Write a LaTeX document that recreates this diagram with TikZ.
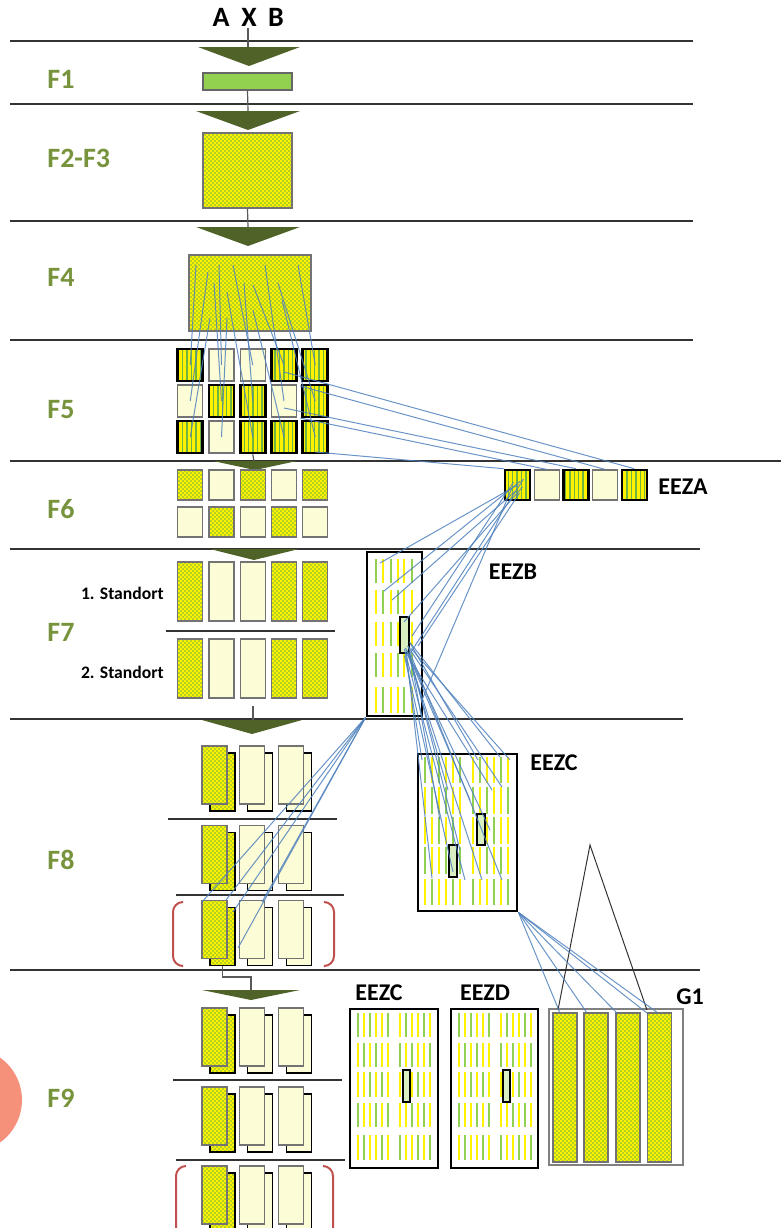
\documentclass[tikz,border=0pt]{standalone}
\usepackage{fontspec}
\setmainfont{Carlito}
\usetikzlibrary{patterns,calc}

\definecolor{fgreen}{HTML}{77933C}
\definecolor{tridark}{HTML}{4F6228}
\definecolor{lgreen}{HTML}{92D050}
\definecolor{dotgreen}{HTML}{6FB43F}
\definecolor{lite}{HTML}{FCFCD6}
\definecolor{flowblue}{HTML}{4F81BD}
\definecolor{brkred}{HTML}{C0504D}
\definecolor{blob}{HTML}{F5907A}

% fill patterns (yellow ground is laid under them)
\pgfdeclarepatternformonly{fdots}{\pgfqpoint{-0.5pt}{-0.5pt}}{\pgfqpoint{2.5pt}{2.5pt}}{\pgfqpoint{2pt}{2pt}}{%
  \pgfpathcircle{\pgfqpoint{0.5pt}{0.5pt}}{0.42pt}%
  \pgfpathcircle{\pgfqpoint{1.5pt}{1.5pt}}{0.42pt}%
  \pgfusepath{fill}}
\pgfdeclarepatternformonly{vstripes}{\pgfqpoint{0pt}{-0.5pt}}{\pgfqpoint{2.2pt}{2.5pt}}{\pgfqpoint{2.2pt}{2pt}}{%
  \pgfsetlinewidth{0.7pt}%
  \pgfpathmoveto{\pgfqpoint{1.1pt}{-0.5pt}}\pgfpathlineto{\pgfqpoint{1.1pt}{2.5pt}}%
  \pgfusepath{stroke}}

\tikzset{
  sepline/.style={draw=black!80, line width=0.55pt},
  tri/.style={fill=tridark},
  stem/.style={draw=black!65, line width=0.6pt},
  flab/.style={anchor=west, inner sep=0, text=fgreen, font=\fontsize{14}{16}\selectfont\bfseries},
  crosslab/.style={font=\fontsize{14}{16}\selectfont\bfseries},
  eezlab/.style={font=\fontsize{12}{14}\selectfont\bfseries},
  ortlab/.style={anchor=east, inner sep=0, font=\fontsize{8.8}{10}\selectfont\bfseries},
  dcell/.style={draw=black!55, line width=0.6pt, preaction={fill=yellow}, pattern=fdots, pattern color=dotgreen},
  lcell/.style={draw=black!55, line width=0.6pt, fill=lite},
  scell/.style={draw=black, line width=1.3pt, preaction={fill=yellow}, pattern=vstripes, pattern color=dotgreen},
  c5/.style={inner sep=0, minimum width=12.5pt, minimum height=16pt},
  c6/.style={inner sep=0, minimum width=12.5pt, minimum height=15pt},
  c7/.style={inner sep=0, minimum width=12.5pt, minimum height=29.5pt},
  pcell/.style={inner sep=0, minimum width=12.5pt, minimum height=29pt},
  eez/.style={draw=black, line width=1.4pt, fill=white, inner sep=0},
  eezsmall/.style={draw=black, line width=0.9pt, fill=lgreen!35, inner sep=0, minimum width=4pt, minimum height=16pt},
  ticky/.style={draw=yellow, line width=1pt},
  tickg/.style={draw=lgreen, line width=1pt},
  flow/.style={draw=flowblue, line width=0.5pt, opacity=0.85},
  gline/.style={draw=black!80, line width=0.5pt},
  brk/.style={draw=brkred, line width=1pt, rounded corners=5pt},
}

% short dashes inside an EEZ block
\newcommand\eezticks[2]{%
  \foreach \ya/\yb [count=\ti] in {#2}{%
    \foreach \xx [count=\tj] in {#1}{%
      \pgfmathtruncatemacro\isg{mod(3*\tj+2*\ti,5)<2}%
      \ifnum\isg=1 \draw[tickg] (\xx,\ya) -- (\xx,\yb);\else \draw[ticky] (\xx,\ya) -- (\xx,\yb);\fi
    }%
  }%
}
% front sheet with a second sheet behind it
\newcommand\pairbox[4]{%
  \node[pcell, #4cell, draw=black] (#1-back) at (#2+8,#3+7) {};
  \node[pcell, #4cell] (#1) at (#2,#3) {};
}

\begin{document}
\begin{tikzpicture}[x=0.5pt, y=-0.5pt]
  \useasboundingbox (0,0) rectangle (781,1228);
  \fill[blob] (-30,1100) circle (52);

  % section rules and labels
  \foreach \yy/\xe in {41/693,104/693,221/693,340/693,461/781,549/700,719/683,970/700}
    \draw[sepline] (10,\yy) -- (\xe,\yy);
  \foreach \nm/\txt/\yy in {f1/F1/79, f23/F2-F3/158, f4/F4/277, f5/F5/410, f6/F6/509, f7/F7/632, f8/F8/860, f9/F9/1098}
    \node[flab] (lab-\nm) at (47,\yy) {\txt};

  % top: crossing A x B
  \node[crosslab] (pa) at (221,17) {A};
  \node[crosslab] (px) at (249,17) {X};
  \node[crosslab] (pb) at (276,17) {B};
  \coordinate (t1) at (248,47);
  \draw[stem] (248,28) -- (t1);
  \fill[tri] (198,47) -- (300,47) -- (249,66) -- cycle;
  \node[draw=black!60, line width=0.6pt, fill=lgreen, inner sep=0, minimum width=44.5pt, minimum height=8.5pt] (f1) at (247.5,81.5) {};

  % F2-F3 and F4
  \coordinate (t2) at (248,111);
  \draw[stem] (f1.south) -- (t2);
  \fill[tri] (196,111) -- (300,111) -- (248,130) -- cycle;
  \node[dcell, inner sep=0, minimum width=44.5pt, minimum height=37.5pt] (f23) at (247.5,170.5) {};
  \coordinate (t3) at (248,227);
  \draw[stem] (f23.south) -- (t3);
  \fill[tri] (196,227) -- (300,227) -- (248,246) -- cycle;
  \node[dcell, inner sep=0, minimum width=61pt, minimum height=38pt] (f4) at (250,293) {};

  % F5 grid
  \foreach \ri/\yy/\kinds in {1/365/{s,l,l,s,s}, 2/401/{l,s,s,l,s}, 3/437/{s,l,s,s,s}}
    \foreach \kk [count=\ci] in \kinds
      \node[c5, \kk cell] (f5-\ri-\ci) at ({159+31.25*\ci},\yy) {};
  \coordinate (t4) at (254,461);
  \draw[stem] (f5-3-3.south) -- (t4);
  \fill[tri] (213,461) -- (297,461) -- (255,470) -- cycle;

  % F6 grid and EEZA
  \foreach \ri/\yy/\kinds in {1/485/{d,l,d,l,d}, 2/522/{l,d,l,d,l}}
    \foreach \kk [count=\ci] in \kinds
      \node[c6, \kk cell] (f6-\ri-\ci) at ({159+31.25*\ci},\yy) {};
  \foreach \kk [count=\ci] in {s,l,s,l,s}
    \node[c6, \kk cell] (eeza-\ci) at ({488.3+29.2*\ci},485) {};
  \node[eezlab] (lab-eeza) at (683,487) {EEZA};
  \fill[tri] (210,549) -- (299,549) -- (254,560) -- cycle;

  % F7: two sites
  \foreach \ri/\yy in {1/591.5, 2/668.5}
    \foreach \kk [count=\ci] in {d,l,l,d,d}
      \node[c7, \kk cell] (f7-\ri-\ci) at ({159+31.25*\ci},\yy) {};
  \node[ortlab] (ort1) at (164,593) {1. Standort};
  \node[ortlab] (ort2) at (164,672) {2. Standort};
  \draw[sepline] (166,631) -- (335,631);
  \coordinate (t6) at (253,720);
  \draw[stem] (253,706) -- (t6);
  \fill[tri] (202,720) -- (302,720) -- (252,734) -- cycle;

  % EEZB
  \node[eez, minimum width=27.5pt, minimum height=82pt] (eezb) at (394.5,634) {};
  \eezticks{376,383,391,398,404,412}{559/583,590/614,622/646,653/677,687/713}
  \node[eezsmall, minimum width=4.5pt, minimum height=18pt] (eezb-s) at (404.5,635) {};
  \node[eezlab] (lab-eezb) at (513,572) {EEZB};

  % F8 sheets
  \foreach \ri/\yy in {1/775, 2/854.5, 3/929.5}
    \foreach \xx/\kk [count=\ci] in {214.5/d, 252/l, 291/l}
      \pairbox{f8-\ri-\ci}{\xx}{\yy}{\kk}
  \draw[sepline] (168,819) -- (337,819);
  \draw[sepline] (176,895) -- (344,895);
  \draw[brk] (182,902) -- (173,902) -- (173,966) -- (182,966);
  \draw[brk] (325,902) -- (334,902) -- (334,966) -- (325,966);
  \coordinate (t7) at (251,990);
  \draw[stem] (f8-3-1-back.south) |- (251,977) -- (t7);
  \fill[tri] (202,990) -- (300,990) -- (251,1000) -- cycle;

  % EEZC (F8)
  \node[eez, minimum width=49.5pt, minimum height=78.5pt] (eezc8) at (467.5,832.5) {};
  \eezticks{425,432,439,446,453,460,473,480,487,494,501,508}{757/783,787/814,817/844,847/874,879/905}
  \node[eezsmall] (eezc8-s1) at (453,861) {};
  \node[eezsmall, minimum height=15.5pt] (eezc8-s2) at (481,829.5) {};
  \node[eezlab] (lab-eezc8) at (554,763) {EEZC};

  % F9 sheets
  \foreach \ri/\yy in {1/1037, 2/1116, 3/1195}
    \foreach \xx/\kk [count=\ci] in {214.5/d, 252/l, 291/l}
      \pairbox{f9-\ri-\ci}{\xx}{\yy}{\kk}
  \draw[sepline] (173,1080) -- (342,1080);
  \draw[sepline] (176,1160) -- (345,1160);
  \draw[brk] (186,1166) -- (176,1166) -- (176,1245);
  \draw[brk] (323,1166) -- (333,1166) -- (333,1245);

  % EEZC and EEZD (F9)
  \node[eez, minimum width=44pt, minimum height=79.5pt] (eezc9) at (394,1088.5) {};
  \eezticks{358,364,370,376,382,388,400,406,412,418,424,430}{1013/1037,1043/1067,1072/1097,1103/1127,1135/1160}
  \node[eezsmall, minimum width=3.5pt] (eezc9-s) at (406.5,1086) {};
  \node[eezlab] (lab-eezc9) at (379,993) {EEZC};
  \node[eez, minimum width=43.5pt, minimum height=79.5pt] (eezd) at (494.5,1088.5) {};
  \eezticks{459,465,471,477,483,489,501,507,513,519,525,531}{1013/1037,1043/1067,1072/1097,1103/1127,1135/1160}
  \node[eezsmall, minimum width=3.5pt] (eezd-s) at (506.5,1086) {};
  \node[eezlab] (lab-eezd) at (485,993) {EEZD};

  % G1
  \node[draw=black!50, line width=0.6pt, fill=white, inner sep=0, minimum width=67pt, minimum height=78pt] (g1) at (616,1087) {};
  \foreach \xx [count=\ci] in {565,596,628,659.5}
    \node[dcell, inner sep=0, minimum width=12pt, minimum height=74.5pt] (g1-\ci) at (\xx,1087.5) {};
  \node[eezlab] (lab-g1) at (690,997) {G1};
  \coordinate (g1top) at (590,845);
  \coordinate (g1left) at (558,1010);
  \coordinate (g1right) at (647,1010);
  \draw[gline] (g1left) -- (g1top) -- (g1right);

  % selection lines
  \foreach \ri/\ci/\sx/\sy in {1/1/196/265, 1/2/219/265, 1/3/233/265, 1/4/253/285, 1/5/298/265,
      2/1/208/272, 2/2/214/283, 2/3/244/283, 2/4/265/265, 2/5/278/283,
      3/1/210/318, 3/2/227/318, 3/3/227/292, 3/4/253/310, 3/5/282/300}{
    \coordinate (s-\ri-\ci) at (\sx,\sy);
    \draw[flow] (s-\ri-\ci) -- (f5-\ri-\ci.center);
  }
  \draw[flow] ($(f5-1-4.center)+(0,7)$) -- (eeza-5.north);
  \draw[flow] ($(f5-1-5.center)+(-15,21)$) -- (eeza-4.north);
  \draw[flow] ($(f5-2-4.center)+(0,7)$) -- (eeza-3.north);
  \draw[flow] ($(f5-2-5.center)+(-15,17)$) -- (eeza-2.north);
  \draw[flow] ($(f5-3-5.center)+(0,15)$) -- (eeza-1.north west);
  \foreach \dx/\dy/\ex/\ey in {0/0/380/563, 3/-4/384/591, -2/6/392/600, 5/2/404/622,
      -4/-3/412/636, 2/8/418/646, 6/-6/409/655, -6/4/422/700}
    \draw[flow] ($(eeza-1.center)+(\dx,\dy)$) -- (\ex,\ey);
  \foreach \dx/\dy/\ex/\ey in {0/-5/422/760, 2/0/432/878, 4/-8/440/820, 0/2/453/872,
      3/-3/448/790, 5/0/460/850, 1/-6/470/800, 4/2/482/880, 6/-10/478/760, 2/-4/490/830,
      6/0/502/880, 3/-8/502/787, 5/-12/500/757, 1/-2/492/790, 6/-6/510/760, 2/3/465/880}
    \draw[flow] ($(eezb-s.south)+(\dx,\dy)$) -- (\ex,\ey);
  \foreach \ex/\ey in {202/902, 226/900, 233/912, 238/948, 262/902}
    \draw[flow] (eezb.south west) -- (\ex,\ey);
  \foreach \ex in {560, 587, 617, 647, 658}
    \draw[flow] (eezc8.south east) -- (\ex,1013);
\end{tikzpicture}
\end{document}
